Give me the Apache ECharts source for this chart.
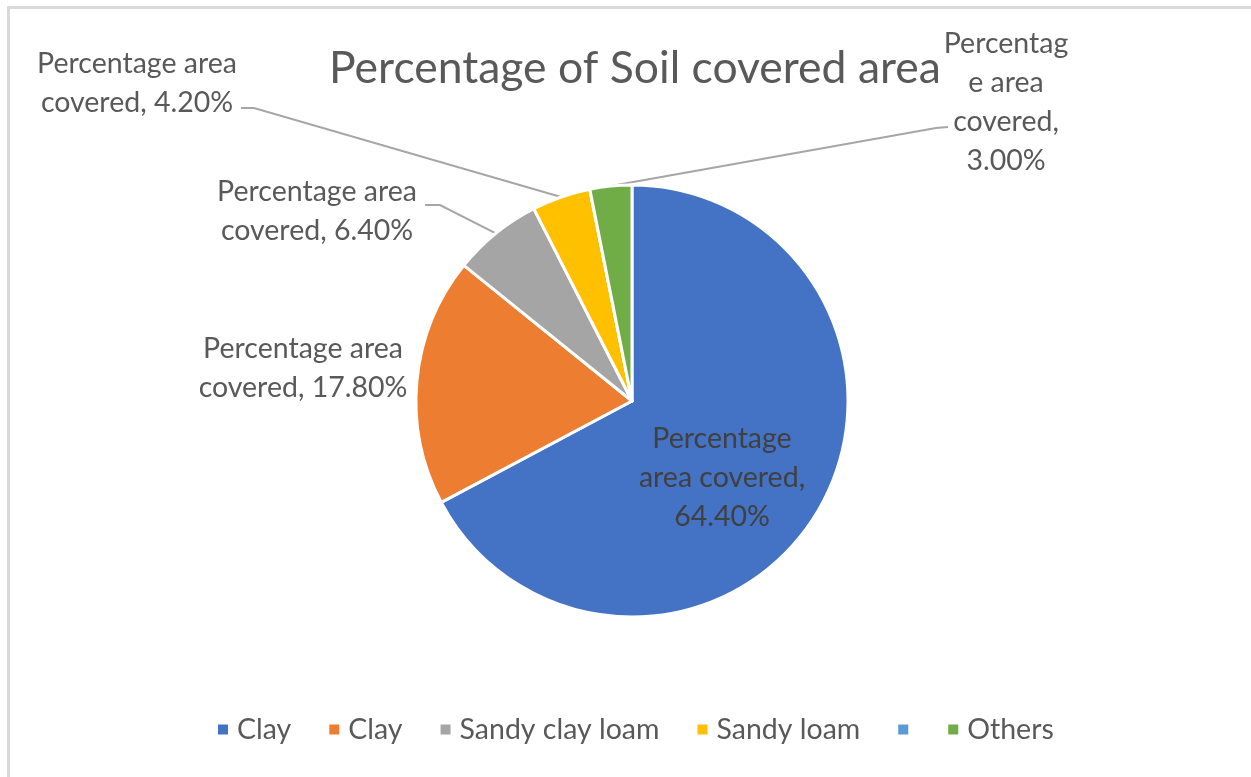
<!DOCTYPE html>
<html>
<head>
<meta charset="utf-8">
<script src="https://cdn.jsdelivr.net/npm/echarts@6/dist/echarts.min.js"></script>
<style>
  html, body { margin: 0; padding: 0; background: #fff; }
  #chart { width: 1251px; height: 777px; }
</style>
</head>
<body>
<div id="chart"></div>
<script>
// Soil types and the share of area each one covers (%)
const soilTypes = ['Clay', 'Clay', 'Sandy clay loam', 'Sandy loam', '', 'Others'];
const areaShare = [64.4, 17.8, 6.4, 4.2, 0, 3.0];
const sliceColors = ['#4472C4', '#ED7D31', '#A5A5A5', '#FFC000', '#5B9BD5', '#70AD47'];
const seriesName = 'Percentage area covered';
const chartTitle = 'Percentage of Soil covered area';

const FONT = 'Lato, "Open Sans", sans-serif';
const TEXT = '#595959';

// unique keys so repeated soil names still get their own legend entry
const keys = soilTypes.map((s, i) => 'k' + i);
const keyToName = {};
keys.forEach((k, i) => { keyToName[k] = soilTypes[i]; });

// label text, wrapped the way each callout is laid out
function labelText(i, v) {
  const pct = v.toFixed(2) + '%';
  if (i === 0) return 'Percentage\narea covered,\n' + pct;
  if (i === 5) return 'Percentag\ne area\ncovered,\n' + pct;
  return 'Percentage area\ncovered, ' + pct;
}

// callout anchor points (label centre) and leader-line bends
const callouts = {
  0: { x: 722, y: 478 },
  1: { x: 303, y: 368 },
  2: { x: 317, y: 211, bend: [[440, 205], [425, 205]] },
  3: { x: 137, y: 83, bend: [[254, 108], [241, 108]] },
  5: { x: 1006, y: 102, bend: [[936, 128], [948, 127]] }
};

const data = areaShare.map((v, i) => {
  const item = {
    name: keys[i],
    value: v,
    itemStyle: { color: sliceColors[i] }
  };
  if (i === 0) {
    item.label = { position: 'inside', color: '#404040' };
    item.labelLine = { show: false };
  } else if (i === 1) {
    item.labelLine = { show: false };
  } else if (v === 0) {
    item.label = { show: false };
    item.labelLine = { show: false };
  }
  return item;
});

const chart = echarts.init(document.getElementById('chart'), null, { renderer: 'canvas' });

chart.setOption({
  backgroundColor: '#ffffff',
  animation: false,
  title: {
    text: chartTitle,
    left: 630,
    top: 41,
    textAlign: 'center',
    textStyle: { fontFamily: FONT, fontSize: 44.5, fontWeight: 'normal', color: TEXT }
  },
  legend: {
    left: 211,
    top: 710,
    icon: 'rect',
    itemWidth: 12,
    itemHeight: 12,
    itemGap: 36,
    data: keys,
    formatter: (k) => keyToName[k],
    textStyle: { fontFamily: FONT, fontSize: 28.5, color: TEXT, padding: [0, 0, 0, 3] }
  },
  graphic: [
    { type: 'line', silent: true, shape: { x1: 8, y1: 7.5, x2: 1251, y2: 7.5 }, style: { stroke: '#d9d9d9', lineWidth: 3 } },
    { type: 'line', silent: true, shape: { x1: 8.5, y1: 6, x2: 8.5, y2: 777 }, style: { stroke: '#d9d9d9', lineWidth: 3 } }
  ],
  series: [{
    type: 'pie',
    name: seriesName,
    center: [632, 401],
    radius: 216,
    startAngle: 90,
    clockwise: true,
    avoidLabelOverlap: false,
    itemStyle: { borderColor: '#ffffff', borderWidth: 3 },
    label: {
      show: true,
      position: 'outside',
      fontFamily: FONT,
      fontSize: 28.5,
      lineHeight: 39,
      color: TEXT,
      align: 'center',
      formatter: (p) => labelText(p.dataIndex, p.value)
    },
    labelLine: {
      show: true,
      length: 20,
      length2: 20,
      lineStyle: { color: '#A6A6A6', width: 2 }
    },
    labelLayout: (params) => {
      const c = callouts[params.dataIndex];
      if (!c) return {};
      const out = { x: c.x, y: c.y, align: 'center', verticalAlign: 'middle' };
      if (c.bend && params.labelLinePoints) {
        out.labelLinePoints = [params.labelLinePoints[0]].concat(c.bend);
      }
      return out;
    },
    emphasis: { disabled: true },
    data: data
  }]
});
</script>
</body>
</html>
